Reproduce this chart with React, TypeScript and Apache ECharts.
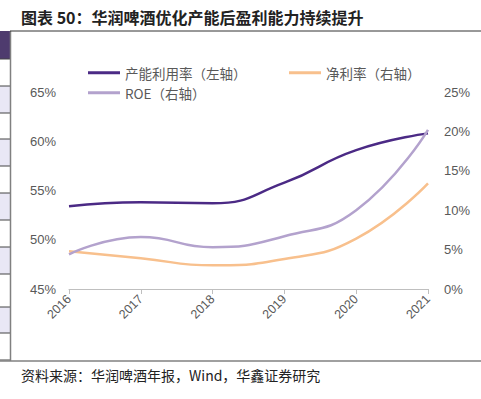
import React, { useEffect, useRef } from "react";
import * as echarts from "echarts";

const years = ["2016", "2017", "2018", "2019", "2020", "2021"];
const capacityUtil = [53.4, 53.8, 53.7, 55.8, 59.1, 60.8];
const netMargin = [4.8, 3.9, 3.0, 3.8, 6.4, 13.4];
const roe = [4.4, 6.6, 5.3, 6.7, 10.0, 20.2];
const nameCap = "产能利用率（左轴）";
const nameNet = "净利率（右轴）";
const nameRoe = "ROE（右轴）";
const titleText = "图表 50：华润啤酒优化产能后盈利能力持续提升";
const sourceText = "资料来源：华润啤酒年报，Wind，华鑫证券研究";

const C_CAP = "#4B2A85";
const C_NET = "#F8C08D";
const C_ROE = "#B3A2CD";
const AX = "#595959";
const FONT = "'Liberation Sans', Arial, sans-serif";
const NARROW = "'Liberation Sans Narrow', 'Liberation Sans', Arial, sans-serif";
const CJK = "'Noto Sans CJK SC', sans-serif";

export default function App() {
  const ref = useRef<HTMLDivElement>(null);
  useEffect(() => {
    document.body.style.margin = "0";
    const chart = echarts.init(ref.current!, undefined, { renderer: "svg" });
    const cellEdges = [59, 86, 113, 139, 166, 193, 220, 247, 274, 307, 333, 360];
    const strip: any[] = [
      { type: "rect", shape: { x: 0, y: 31, width: 10, height: 28 }, style: { fill: "#4E3B6E" } },
    ];
    for (let i = 0; i < cellEdges.length - 1; i++) {
      strip.push({
        type: "rect",
        shape: { x: 0, y: cellEdges[i], width: 10, height: cellEdges[i + 1] - cellEdges[i] },
        style: { fill: i % 2 === 1 ? "#E9E7F5" : "#FFFFFF" },
      });
    }
    cellEdges.forEach((y) =>
      strip.push({
        type: "line",
        shape: { x1: 0, y1: y, x2: 10, y2: y },
        style: { stroke: "#444", lineWidth: 1 },
      })
    );
    const legendBase = {
      itemWidth: 32,
      itemHeight: 3,
      icon: "rect",
      textStyle: { color: AX, fontSize: 13.5, fontFamily: CJK },
      itemGap: 10,
    };
    chart.setOption({
      animation: false,
      backgroundColor: "#fff",
      graphic: [
        ...strip,
        {
          type: "line",
          shape: { x1: 10.5, y1: 31, x2: 10.5, y2: 361 },
          style: { stroke: "#808080", lineWidth: 1.5 },
        },
        {
          type: "line",
          shape: { x1: 10, y1: 31, x2: 481, y2: 31 },
          style: { stroke: "#333", lineWidth: 1 },
        },
        {
          type: "line",
          shape: { x1: 0, y1: 361, x2: 481, y2: 361 },
          style: { stroke: "#808080", lineWidth: 1.5 },
        },
        {
          type: "text",
          x: 21,
          y: 17,
          style: {
            text: titleText,
            fontSize: 16,
            fontWeight: "bold",
            fontFamily: CJK,
            fill: "#222",
            verticalAlign: "middle",
          },
        },
        {
          type: "text",
          x: 21,
          y: 375,
          style: {
            text: sourceText,
            fontSize: 14,
            fontFamily: CJK,
            fill: "#222",
            verticalAlign: "middle",
          },
        },
      ],
      legend: [
        { ...legendBase, left: 83, top: 61, data: [nameCap] },
        { ...legendBase, left: 284, top: 61, data: [nameNet] },
        { ...legendBase, left: 83, top: 81, data: [nameRoe] },
      ],
      grid: { left: 69, right: 53, top: 92, bottom: 110 },
      xAxis: {
        type: "category",
        data: years,
        boundaryGap: false,
        axisLine: { lineStyle: { color: "#BFBFBF", width: 1 } },
        axisTick: { show: true, length: 5, lineStyle: { color: "#BFBFBF" } },
        axisLabel: { rotate: 45, color: AX, fontSize: 12.5, fontFamily: FONT, margin: 8 },
      },
      yAxis: [
        {
          type: "value",
          min: 45,
          max: 65,
          interval: 5,
          axisLine: { show: false },
          axisTick: { show: false },
          splitLine: { show: false },
          axisLabel: { formatter: "{value}%", color: AX, fontSize: 13, fontFamily: NARROW, margin: 13 },
        },
        {
          type: "value",
          min: 0,
          max: 25,
          interval: 5,
          axisLine: { show: false },
          axisTick: { show: false },
          splitLine: { show: false },
          axisLabel: { formatter: "{value}%", color: AX, fontSize: 13, fontFamily: NARROW, margin: 16 },
        },
      ],
      series: [
        {
          name: nameCap,
          type: "line",
          data: capacityUtil,
          yAxisIndex: 0,
          smooth: true,
          showSymbol: false,
          lineStyle: { color: C_CAP, width: 2.5 },
          itemStyle: { color: C_CAP },
        },
        {
          name: nameNet,
          type: "line",
          data: netMargin,
          yAxisIndex: 1,
          smooth: true,
          showSymbol: false,
          lineStyle: { color: C_NET, width: 2.5 },
          itemStyle: { color: C_NET },
        },
        {
          name: nameRoe,
          type: "line",
          data: roe,
          yAxisIndex: 1,
          smooth: true,
          showSymbol: false,
          lineStyle: { color: C_ROE, width: 2.5 },
          itemStyle: { color: C_ROE },
        },
      ],
    });
    return () => chart.dispose();
  }, []);
  return <div ref={ref} style={{ width: 481, height: 399 }} />;
}
